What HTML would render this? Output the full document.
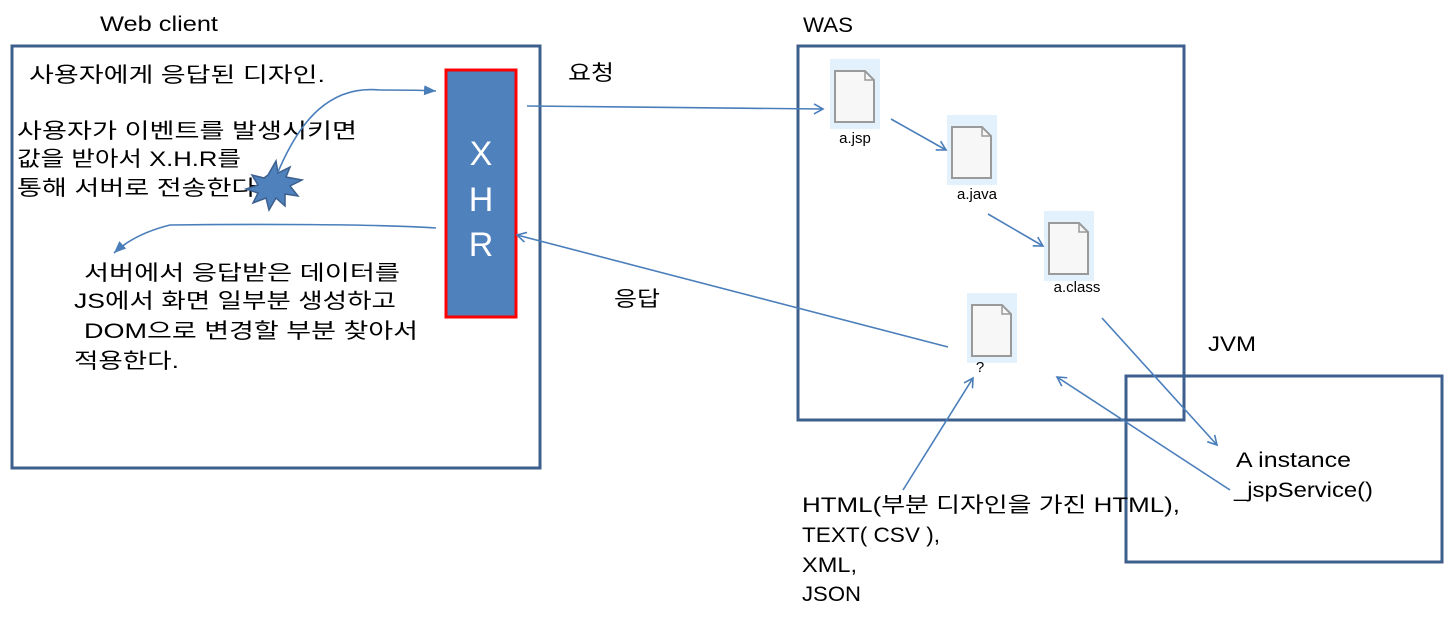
<!DOCTYPE html>
<html><head><meta charset="utf-8"><style>
html,body{margin:0;padding:0;background:#fff;}
svg text{font-family:"Liberation Sans","Noto Sans CJK KR",sans-serif;fill:#000;}
</style></head><body>
<svg width="1444" height="624" viewBox="0 0 1444 624" xmlns="http://www.w3.org/2000/svg">
<defs>
<marker id="oa" markerWidth="12" markerHeight="12" refX="10" refY="6" orient="auto" markerUnits="userSpaceOnUse">
<path d="M1,1 L10,6 L1,11" fill="none" stroke="#4a7ebb" stroke-width="1.6"/></marker>
<marker id="fa" markerWidth="14" markerHeight="12" refX="12" refY="6" orient="auto" markerUnits="userSpaceOnUse">
<path d="M0,1 L12,6 L0,11 z" fill="#4a7ebb"/></marker>
<g id="doc"><rect x="0" y="0" width="50" height="70" fill="#e3f1fc"/>
<path d="M5,12 h30 l9,9 v42 h-39 z" fill="#f7f7f7" stroke="#9a9a9a" stroke-width="2"/>
<path d="M35,12 v9 h9" fill="none" stroke="#9a9a9a" stroke-width="1.5"/></g>
</defs>
<g fill="none" stroke="#3c5f8e" stroke-width="3">
<rect x="12" y="46" width="528" height="422"/>
<rect x="798" y="46" width="386" height="374"/>
<rect x="1126" y="376" width="316" height="186"/>
</g>
<rect x="446" y="70" width="70" height="247" fill="#4f81bd" stroke="#ff0000" stroke-width="3"/>
<text x="481" y="165" font-size="34" text-anchor="middle" style="fill:#fff">X</text>
<text x="481" y="211" font-size="34" text-anchor="middle" style="fill:#fff">H</text>
<text x="481" y="256" font-size="34" text-anchor="middle" style="fill:#fff">R</text>
<g font-size="21" lengthAdjust="spacingAndGlyphs">
<text x="100" y="31" textLength="118" lengthAdjust="spacingAndGlyphs">Web  client</text>
<text x="803" y="32" textLength="50" lengthAdjust="spacingAndGlyphs">WAS</text>
<text x="1208" y="351" textLength="48" lengthAdjust="spacingAndGlyphs">JVM</text>
<text x="568" y="80" textLength="46" lengthAdjust="spacingAndGlyphs">요청</text>
<text x="614" y="306" textLength="46" lengthAdjust="spacingAndGlyphs">응답</text>
<text x="29" y="82" textLength="296" lengthAdjust="spacingAndGlyphs">사용자에게 응답된 디자인.</text>
<text x="17" y="138" textLength="340" lengthAdjust="spacingAndGlyphs">사용자가 이벤트를 발생시키면</text>
<text x="17" y="166" textLength="224" lengthAdjust="spacingAndGlyphs">값을 받아서 X.H.R를</text>
<text x="17" y="195" textLength="247" lengthAdjust="spacingAndGlyphs">통해 서버로 전송한다.</text>
<text x="84" y="280" textLength="316" lengthAdjust="spacingAndGlyphs">서버에서 응답받은 데이터를</text>
<text x="74" y="308" textLength="322" lengthAdjust="spacingAndGlyphs">JS에서 화면 일부분 생성하고</text>
<text x="84" y="338" textLength="334" lengthAdjust="spacingAndGlyphs">DOM으로 변경할 부분 찾아서</text>
<text x="74" y="368" textLength="105" lengthAdjust="spacingAndGlyphs">적용한다.</text>
<text x="802" y="512" textLength="378" lengthAdjust="spacingAndGlyphs">HTML(부분 디자인을 가진 HTML),</text>
<text x="802" y="542" textLength="138" lengthAdjust="spacingAndGlyphs">TEXT( CSV ),</text>
<text x="802" y="572" textLength="55" lengthAdjust="spacingAndGlyphs">XML,</text>
<text x="802" y="601" textLength="59" lengthAdjust="spacingAndGlyphs">JSON</text>
<text x="1236" y="467" textLength="115" lengthAdjust="spacingAndGlyphs">A instance</text>
<text x="1234" y="497" textLength="139" lengthAdjust="spacingAndGlyphs">_jspService()</text>
</g>
<path d="M268,175 l8,-14 l2,12 l12,-6 l-4,10 l16,3 l-12,6 l8,10 l-13,-2 l0,12 l-9,-8 l-7,12 l-3,-12 l-13,5 l5,-10 l-12,-4 l12,-4 l-6,-10 l12,3 z" fill="#4f81bd" stroke="#3c5f8e" stroke-width="1.5"/>
<use href="#doc" x="830" y="59"/>
<use href="#doc" x="947" y="115"/>
<use href="#doc" x="1044" y="211"/>
<use href="#doc" x="967" y="293"/>
<g font-size="15"><text x="855" y="143" text-anchor="middle">a.jsp</text>
<text x="977" y="199" text-anchor="middle">a.java</text>
<text x="1077" y="292" text-anchor="middle">a.class</text>
<text x="980" y="372" text-anchor="middle">?</text></g>
<g fill="none" stroke="#4a7ebb" stroke-width="1.6">
<path d="M527,106 L823,109" marker-end="url(#oa)"/>
<path d="M891,119 L946,150" marker-end="url(#oa)"/>
<path d="M988,214 L1043,246" marker-end="url(#oa)"/>
<path d="M1102,318 L1217,445" marker-end="url(#oa)"/>
<path d="M948,347 L517,235" marker-end="url(#oa)"/>
<path d="M903,490 L973,378" marker-end="url(#oa)"/>
<path d="M1230,490 L1057,377" marker-end="url(#oa)"/>
<path d="M278,172 C300,120 330,85 380,90 C400,90 420,90 436,91" marker-end="url(#fa)"/>
<path d="M436,228 C380,224 250,224 170,225 C150,230 130,238 114,253" marker-end="url(#fa)"/>
</g>
</svg>
</body></html>
